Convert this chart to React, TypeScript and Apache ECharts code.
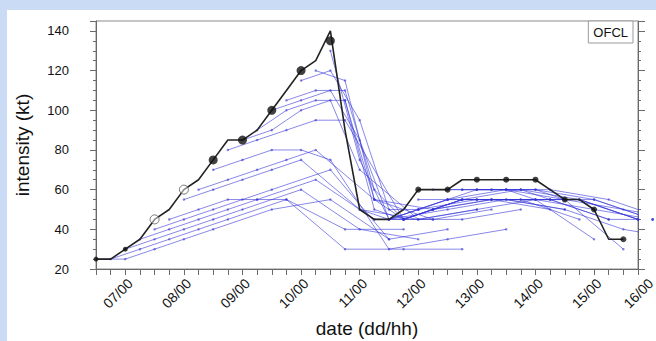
import React, { useEffect, useRef } from 'react';
import * as echarts from 'echarts';

// x tick labels (dd/hh)
const tickLabels = ['07/00', '08/00', '09/00', '10/00', '11/00', '12/00', '13/00', '14/00', '15/00', '16/00'];

// Black line (best track) times and intensities (kt)
const bestTimes = ['06/12', '06/18', '07/00', '07/06', '07/12', '07/18', '08/00', '08/06', '08/12', '08/18', '09/00', '09/06', '09/12', '09/18', '10/00', '10/06', '10/12', '10/18', '11/00', '11/06', '11/12', '11/18', '12/00', '12/06', '12/12', '12/18', '13/00', '13/06', '13/12', '13/18', '14/00', '14/06', '14/12', '14/18', '15/00', '15/06', '15/12'];
const bestValues = [25, 25, 30, 35, 45, 50, 60, 65, 75, 85, 85, 90, 100, 110, 120, 125, 140, 90, 50, 45, 45, 50, 60, 60, 60, 65, 65, 65, 65, 65, 65, 60, 55, 55, 50, 35, 35];

// markers on the black line
const smallDotTimes = ['06/12', '07/00'];
const smallDotValues = [25, 30];
const openCircleTimes = ['07/12', '08/00'];
const openCircleValues = [45, 60];
const bigDotTimes = ['08/12', '09/00', '09/12', '10/00', '10/12'];
const bigDotValues = [75, 85, 100, 120, 135];
const lateDotTimes = ['12/00', '12/12', '13/00', '13/12', '14/00', '14/12', '15/00', '15/12'];
const lateDotValues = [60, 60, 65, 65, 65, 55, 50, 35];

// OFCL forecasts: lead hours and values per initial time
const leadHours = [0, 12, 24, 36, 48, 72, 96, 120];
const forecastInits = ['06/12', '06/18', '07/00', '07/06', '07/12', '07/18', '08/00', '08/06', '08/12', '08/18', '09/00', '09/06', '09/12', '09/18', '10/00', '10/06', '10/12', '10/18', '11/00', '11/06', '11/12', '11/18', '12/00', '12/06', '12/12', '12/18', '13/00'];
const forecastValues = [
  [25, 25, 30, 35, 40, 50, 55, 35],
  [25, 30, 35, 40, 45, 55, 40, 40],
  [30, 35, 40, 45, 50, 60, 40, 35],
  [35, 40, 45, 50, 55, 65, 45, 45],
  [40, 45, 50, 55, 60, 70, 35, 40],
  [45, 50, 55, 55, 55, 30, 30, 30],
  [55, 60, 65, 70, 75, 50, 45, 50],
  [60, 65, 70, 75, 80, 55, 45, 50],
  [70, 75, 80, 80, 75, 30, 35, 40],
  [80, 85, 90, 95, 95, 45, 45, 50],
  [85, 90, 100, 105, 70, 45, 50, 55],
  [90, 100, 105, 105, 55, 50, 55, 50],
  [100, 105, 110, 85, 45, 50, 55, 50],
  [105, 110, 110, 60, 45, 55, 55, 45],
  [115, 120, 95, 50, 50, 55, 55, 35],
  [120, 115, 55, 45, 50, 55, 55, 45],
  [130, 75, 45, 50, 55, 60, 55, 30],
  [105, 50, 45, 50, 55, 60, 55, 45],
  [50, 45, 50, 55, 55, 55, 50, 45],
  [45, 45, 50, 55, 55, 55, 45, 45],
  [45, 50, 55, 55, 55, 50, 40, 35],
  [45, 50, 55, 55, 55, 55, 45, 45],
  [55, 55, 60, 60, 60, 55, 45],
  [60, 60, 60, 60, 60, 55, 45],
  [60, 60, 60, 60, 55, 50, 45],
  [60, 60, 60, 55, 55, 45],
  [60, 60, 55, 55, 55, 45],
];

const toHours = (t: string) => {
  const [d, h] = t.split('/').map(Number);
  return (d - 6) * 24 + h - 12;
};
const fromHours = (x: number) => {
  const tot = x + 12;
  const d = 6 + Math.floor(tot / 24);
  const h = tot % 24;
  return `${String(d).padStart(2, '0')}/${String(h).padStart(2, '0')}`;
};
const pairs = (times: string[], values: number[]) => times.map((t, i) => [toHours(t), values[i]]);

const FONT = '"Liberation Sans", Arial, Helvetica, sans-serif';
const BLUE = 'rgba(50,50,215,0.58)';
const AXIS = '#6a6a6a';
const LABEL_MARGIN = 7;
const XLABEL_SIZE = 14;

export default function App() {
  const ref = useRef<HTMLDivElement>(null);
  useEffect(() => {
    const chart = echarts.init(ref.current!, null, { renderer: 'svg' });
    const forecastSeries = forecastInits.map((init, i) => ({
      name: 'OFCL',
      type: 'line',
      clip: false,
      silent: true,
      data: forecastValues[i].map((v, k) => [toHours(init) + leadHours[k], v]),
      symbol: 'circle',
      symbolSize: 2.5,
      showSymbol: true,
      lineStyle: { color: BLUE, width: 1 },
      itemStyle: { color: BLUE },
      z: 2,
    }));
    const xMax = toHours('15/18');
    chart.setOption({
      animation: false,
      backgroundColor: 'transparent',
      textStyle: { fontFamily: FONT },
      grid: {
        left: 96, right: 18, top: 21, bottom: 72,
        containLabel: false, outerBoundsMode: 'none',
        show: true, borderColor: '#8a8a8a', borderWidth: 1,
      },
      legend: {
        data: [{ name: 'OFCL', icon: 'none' }],
        right: 23,
        top: 21,
        itemWidth: 0,
        itemHeight: 0,
        itemGap: 0,
        padding: [5, 5, 4, 0],
        borderColor: '#9a9a9a',
        borderWidth: 1,
        backgroundColor: '#fff',
        selectedMode: false,
        textStyle: { fontSize: 13, color: '#111', fontFamily: FONT },
      },
      xAxis: {
        type: 'value',
        min: 0,
        max: xMax,
        interval: 6,
        name: 'date (dd/hh)',
        nameLocation: 'middle',
        nameGap: 50,
        nameTextStyle: { fontSize: 19, color: '#111', fontFamily: FONT },
        axisLine: { show: true, lineStyle: { color: AXIS } },
        axisTick: { show: true, length: 6, lineStyle: { color: AXIS } },
        splitLine: { show: false },
        axisLabel: {
          rotate: 45,
          margin: LABEL_MARGIN,
          verticalAlign: 'top',
          fontSize: XLABEL_SIZE,
          color: '#111',
          fontFamily: FONT,
          formatter: (v: number) => {
            const s = fromHours(v);
            return tickLabels.includes(s) ? s : '';
          },
        },
      },
      yAxis: [
        {
          type: 'value',
          min: 20,
          max: 145,
          interval: 20,
          name: 'intensity (kt)',
          nameLocation: 'middle',
          nameRotate: 90,
          nameGap: 64,
          nameTextStyle: { fontSize: 19, color: '#111', fontFamily: FONT },
          axisLine: { show: true, lineStyle: { color: AXIS } },
          axisTick: { show: true, length: 6, lineStyle: { color: AXIS } },
          minorTick: { show: true, splitNumber: 4, length: 3, lineStyle: { color: AXIS } },
          splitLine: { show: false },
          axisLabel: { fontSize: 13, color: '#111', margin: 27, fontFamily: FONT, showMaxLabel: false },
        },
        {
          type: 'value',
          position: 'right',
          min: 20,
          max: 145,
          interval: 20,
          axisLine: { show: true, lineStyle: { color: AXIS } },
          axisTick: { show: true, length: 7, lineStyle: { color: AXIS } },
          minorTick: { show: true, splitNumber: 4, length: 3, lineStyle: { color: AXIS } },
          splitLine: { show: false },
          axisLabel: { show: false },
        },
      ],
      series: [
        ...forecastSeries,
        {
          name: 'BEST',
          type: 'line',
          data: pairs(bestTimes, bestValues),
          showSymbol: false,
          symbol: 'none',
          lineStyle: { color: '#222', width: 1.6 },
          z: 5,
          silent: true,
        },
        {
          type: 'scatter',
          data: pairs(smallDotTimes, smallDotValues),
          symbol: 'circle',
          symbolSize: 5,
          itemStyle: { color: '#111' },
          z: 6,
          silent: true,
        },
        {
          type: 'scatter',
          data: pairs(openCircleTimes, openCircleValues),
          symbol: 'circle',
          symbolSize: 9,
          itemStyle: { color: 'rgba(255,255,255,0.6)', borderColor: '#555', borderWidth: 1 },
          z: 6,
          silent: true,
        },
        {
          type: 'scatter',
          data: pairs(bigDotTimes, bigDotValues),
          symbol: 'circle',
          symbolSize: 9,
          itemStyle: { color: '#111' },
          z: 6,
          silent: true,
        },
        {
          type: 'scatter',
          data: pairs(lateDotTimes, lateDotValues),
          symbol: 'circle',
          symbolSize: 6,
          itemStyle: { color: '#111' },
          z: 6,
          silent: true,
        },
      ],
    });
    // tick label for 16/00 lies beyond the axis end; place it through the axis scale
    const lastLabel = tickLabels[tickLabels.length - 1];
    const px = chart.convertToPixel({ xAxisIndex: 0 }, toHours(lastLabel)) as number;
    const py = chart.convertToPixel({ yAxisIndex: 0 }, 20) as number;
    chart.setOption({
      graphic: [
        {
          type: 'text',
          x: px - 7,
          y: py + LABEL_MARGIN,
          rotation: Math.PI / 4,
          style: { text: lastLabel, align: 'right', verticalAlign: 'top', fontSize: XLABEL_SIZE, fill: '#111', fontFamily: FONT },
          silent: true,
        },
      ],
    });
    return () => chart.dispose();
  }, []);
  return (
    <div style={{ position: 'absolute', left: 0, top: 0, width: 656, height: 341, background: '#c9dbf5', overflow: 'hidden' }}>
      <div style={{ position: 'absolute', left: 7, top: 10, right: 0, bottom: 0, background: '#fff' }} />
      <div ref={ref} style={{ position: 'absolute', left: 0, top: 0, width: 656, height: 341 }} />
    </div>
  );
}
